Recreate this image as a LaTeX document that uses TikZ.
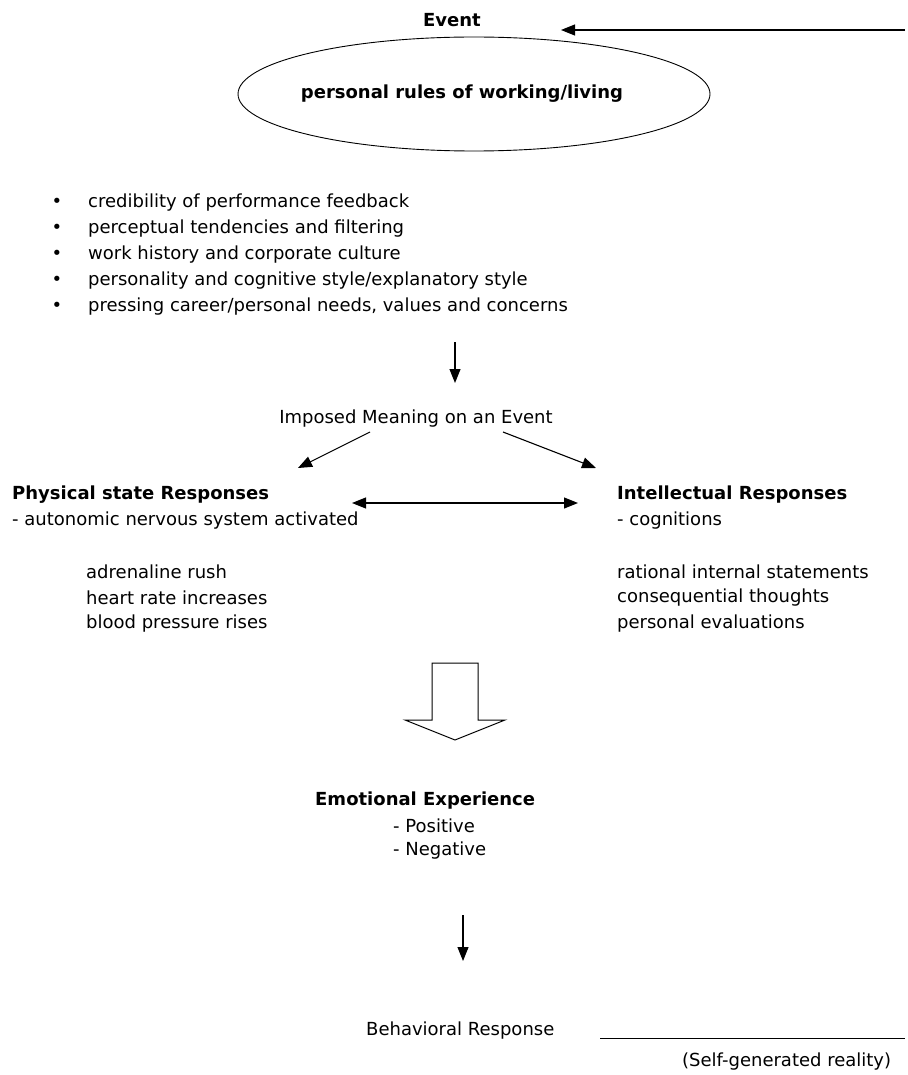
\documentclass[tikz,border=0pt]{standalone}
\usepackage{fontspec}
\setmainfont{DejaVu Sans}
\usetikzlibrary{arrows.meta,shapes.geometric}

\begin{document}
\begin{tikzpicture}[x=1pt,y=-1pt,
    every node/.style={font=\fontsize{18}{22}\selectfont, inner sep=0pt},
    hd/.style={font=\fontsize{18}{22}\selectfont\bfseries},
    arr/.style={-{Triangle[width=11pt,length=14pt]}, line width=1.1pt},
    ln/.style={anchor=west}]
  \useasboundingbox (0,0) rectangle (907,1075);
  %% top: event and rules
  \node [hd] (event) at (452, 20) {Event};
  \node [ellipse, draw, line width=0.9pt, minimum width=472pt, minimum height=114pt] (rules) at (474, 94) {};
  \node [hd] (rulestext) at (462, 94) {personal rules of working/living};
  \coordinate (back) at (905, 30);
  \coordinate (backend) at (561, 30);
  %% bullet list
  \foreach \t [count=\i] in {credibility of performance feedback,
      perceptual tendencies and filtering,
      work history and corporate culture,
      personality and cognitive style/explanatory style,
      {pressing career/personal needs, values and concerns}} {
    \node [ln] (b\i) at (88, 177+26*\i) {\t};
    \node at (57, 177+26*\i) {\textbullet};
  }
  %% meaning
  \coordinate (m1) at (455, 342);
  \coordinate (m2) at (455, 383);
  \node (meaning) at (416, 419) {Imposed Meaning on an Event};
  %% two responses
  \node [ln, hd] (phys) at (12, 495) {Physical state Responses};
  \node [ln] (auto) at (12, 521) {- autonomic nervous system activated};
  \node [ln, hd] (intel) at (617, 495) {Intellectual Responses};
  \node [ln] (cogn) at (617, 521) {- cognitions};
  \node [ln] (p1) at (86, 572) {adrenaline rush};
  \node [ln] (p2) at (86, 598) {heart rate increases};
  \node [ln] (p3) at (86, 624) {blood pressure rises};
  \node [ln] (i1) at (617, 572) {rational internal statements};
  \node [ln] (i2) at (617, 598) {consequential thoughts};
  \node [ln] (i3) at (617, 624) {personal evaluations};
  %% block arrow
  \draw [line width=1pt, line join=miter] (432, 663) -- (478, 663) -- (478, 720) -- (505, 720)
    -- (455, 740) -- (405, 720) -- (432, 720) -- cycle;
  %% emotion
  \node [ln, hd] (emo) at (315, 801) {Emotional Experience};
  \node [ln] (pos) at (393, 826) {- Positive};
  \node [ln] (neg) at (393, 851) {- Negative};
  \coordinate (e1) at (463, 915);
  \coordinate (e2) at (463, 961);
  %% behaviour
  \node [ln] (beh) at (366, 1031) {Behavioral Response};
  \coordinate (l1) at (600, 1038);
  \coordinate (l2) at (905, 1038);
  \node [ln] (self) at (682, 1062) {(Self-generated reality)};
  %% arrows
  \draw [arr] (back) -- (backend);
  \draw [arr] (m1) -- (m2);
  \draw [arr] (370, 432) -- (298, 468);
  \draw [arr] (503, 432) -- (596, 468);
  \draw [{Triangle[width=11pt,length=14pt]}-{Triangle[width=11pt,length=14pt]}, line width=1.1pt] (352, 503) -- (578, 503);
  \draw [arr] (e1) -- (e2);
  \draw [line width=1pt] (l1) -- (l2);
\end{tikzpicture}
\end{document}
